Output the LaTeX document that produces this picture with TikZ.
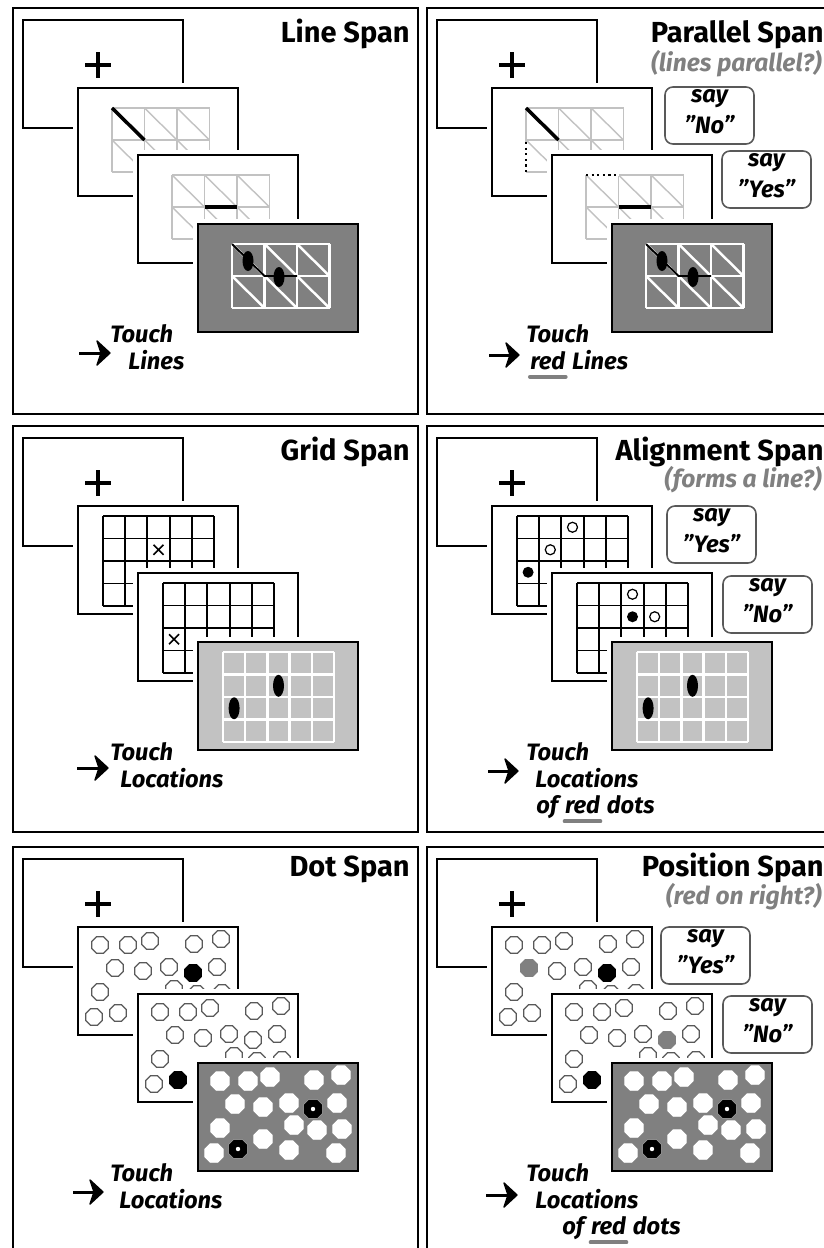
\documentclass[tikz,border=0pt]{standalone}
\usepackage{fontspec}
\setmainfont{Fira Sans}
\usetikzlibrary{positioning}

\definecolor{lightgrey}{gray}{0.76}
\definecolor{midgrey}{gray}{0.5}
\definecolor{darkgrey}{gray}{0.35}

\tikzset{
  panel/.style={line width=1.1pt},
  screen/.style={line width=1.4pt},
  fixcross/.style={line width=2.6pt},
  gline/.style={lightgrey,line width=1.1pt},
  gdiag/.style={lightgrey,line width=0.8pt},
  wline/.style={white,line width=1.4pt},
  bline/.style={line width=1.1pt},
  seg/.style={line width=2pt},
  trace/.style={line width=1.1pt},
  dotseg/.style={line width=1.2pt,dotted},
  octopen/.style={draw=darkgrey,fill=white,line width=0.75pt},
  octblack/.style={draw=black,fill=black,line width=0.75pt},
  octgrey/.style={draw=midgrey,fill=midgrey,line width=0.75pt},
  octwhite/.style={draw=white,fill=white,line width=0.5pt},
  title/.style={anchor=base east,inner sep=0pt,font=\fontsize{16.5}{18}\selectfont\bfseries},
  hint/.style={anchor=base east,inner sep=0pt,text=midgrey,font=\fontsize{14}{16}\selectfont\bfseries\itshape},
  instr/.style={anchor=base west,inner sep=0pt,font=\fontsize{13.5}{15}\selectfont\bfseries\itshape},
  saytxt/.style={anchor=base,inner sep=0pt,font=\fontsize{13.5}{15}\selectfont\bfseries\itshape},
  bubble/.style={draw=darkgrey,line width=0.9pt,rounded corners=4.5pt},
  uline/.style={midgrey,line width=2.3pt,line cap=round},
  shaft/.style={line width=1.7pt},
  tip/.style={line width=0.8pt,line join=round}
}

\newcommand{\panelbase}{%
  \draw[panel] (0,0) rectangle (405,406);
  \draw[screen] (10,12) rectangle (170,120);
  \draw[fixcross] (72,57) -- (98,57) (85,44) -- (85,70);}

\newcommand{\drawscreen}[4]{%
  \fill[white] (#1-5,#2-5) rectangle (#1+165,#2+113);
  \draw[screen,fill=#3] (#1,#2) rectangle (#1+160,#2+108);
  \begin{scope}[shift={(#1,#2)}]#4\end{scope}}

\newcommand{\linegrid}[2]{%
  \foreach \i in {0,...,3} \draw[#1] (34+32.5*\i,20) -- (34+32.5*\i,84);
  \foreach \j in {0,1,2} \draw[#1] (34,20+32*\j) -- (131.5,20+32*\j);
  \foreach \i in {0,1,2} \foreach \j in {0,1} \draw[#2] (34+32.5*\i,20+32*\j) -- ++(32.5,32);}

\newcommand{\boxgrid}[1]{%
  \foreach \i in {0,...,5} \draw[#1] (25+22.2*\i,10) -- (25+22.2*\i,100);
  \foreach \j in {0,...,4} \draw[#1] (25,10+22.5*\j) -- (136,10+22.5*\j);}

\newcommand{\gridx}[2]{\draw[line width=0.9pt] (#1-5,#2-5) -- (#1+5,#2+5) (#1-5,#2+5) -- (#1+5,#2-5);}

\newcommand{\octagon}[3]{\draw[#1] #2 +(22.5:#3) -- +(67.5:#3) -- +(112.5:#3) -- +(157.5:#3)
  -- +(202.5:#3) -- +(247.5:#3) -- +(292.5:#3) -- +(337.5:#3) -- cycle;}

\newcommand{\dotfield}[2]{%
  \foreach \p in {(22,18),(50,18),(72,14),(116,17),(143,12),
                  (37,41),(65,44),(91,40),(115,46),(139,40),
                  (22,65),(96,62),(119,67),(144,66),
                  (65,76),(91,87),(138,90),(16,90),(40,86)}
    {\octagon{#1}{\p}{#2}}}

\newcommand{\ring}[2]{\octagon{octblack}{(#1,#2)}{9.5}\fill[white] (#1,#2) circle [radius=2.2];}

\newcommand{\saybubble}[4]{%
  \draw[bubble] (#2,#3) rectangle ++(89,57);
  \node[saytxt] (#1a) at (#2+44.5,#3+15) {say};
  \node[saytxt] (#1b) at (#2+44.5,#3+46) {"#4"};}

\newcommand{\pointer}[2]{%
  \draw[shaft] (#1) -- ([xshift=-4pt]#2);
  \filldraw[tip] (#2) -- +(-13,-12) -- +(-9,0) -- +(-13,12) -- cycle;}

\begin{document}
\begin{tikzpicture}[x=0.02cm,y=-0.02cm]
\useasboundingbox (0,0) rectangle (824,1248);
\clip (0,0) rectangle (824,1248);

\begin{scope}[shift={(13,8)}]
\panelbase
\node[title] (t1) at (397,34) {Line Span};
\drawscreen{65}{80}{white}{\linegrid{gline}{gdiag}\draw[seg] (34,20) -- (66.5,52);}
\drawscreen{125}{147}{white}{\linegrid{gline}{gdiag}\draw[seg] (66.5,52) -- (99,52);}
\drawscreen{185}{216}{midgrey}{\linegrid{wline}{wline}
  \draw[trace] (34,20) -- (66.5,52) -- (99,52);
  \fill (50,37) ellipse [x radius=5.5,y radius=10];
  \fill (81,53) ellipse [x radius=5.5,y radius=10];}
\coordinate (a1) at (66,345);
\coordinate (a1e) at (97,345);
\pointer{a1}{a1e}
\node[instr] (h1) at (97,334) {Touch};
\node[instr] (w1) at (115,361) {Lines};
\end{scope}

\begin{scope}[shift={(427,8)}]
\panelbase
\node[title] (t2) at (397,34) {Parallel Span};
\node[hint] (q2) at (395,63) {(lines parallel?)};
\drawscreen{65}{80}{white}{\linegrid{gline}{gdiag}\draw[seg] (34,20) -- (66.5,52);
  \draw[white,line width=1.3pt] (34,54) -- (34,84);
  \draw[dotseg] (34,54) -- (34,84);}
\drawscreen{125}{147}{white}{\linegrid{gline}{gdiag}\draw[seg] (66.5,52) -- (99,52);
  \draw[white,line width=1.3pt] (34,20) -- (66.5,20);
  \draw[dotseg] (34,20) -- (66.5,20);}
\drawscreen{185}{216}{midgrey}{\linegrid{wline}{wline}
  \draw[trace] (34,20) -- (66.5,52) -- (99,52);
  \fill (50,37) ellipse [x radius=5.5,y radius=10];
  \fill (81,53) ellipse [x radius=5.5,y radius=10];}
\saybubble{s2n}{238}{79}{No}
\saybubble{s2y}{295}{143}{Yes}
\coordinate (a2) at (62,347);
\coordinate (a2e) at (92,347);
\pointer{a2}{a2e}
\node[instr] (h2) at (99,334) {Touch};
\node[instr] (r2) at (103,361) {red};
\node[instr,base right=3.5pt of r2] (w2) {Lines};
\draw[uline] ([yshift=-4.5pt]r2.base west) -- ([yshift=-4.5pt]r2.base east);
\end{scope}

\begin{scope}[shift={(13,426)}]
\panelbase
\node[title] (t3) at (397,34) {Grid Span};
\drawscreen{65}{80}{white}{\boxgrid{bline}\gridx{80.5}{43.75}}
\drawscreen{125}{147}{white}{\boxgrid{bline}\gridx{36.1}{66.25}}
\drawscreen{185}{216}{lightgrey}{\boxgrid{wline}
  \fill (36.1,66.25) ellipse [x radius=5.5,y radius=11];
  \fill (80.5,43.75) ellipse [x radius=5.5,y radius=11];}
\coordinate (a3) at (64,342);
\coordinate (a3e) at (95,342);
\pointer{a3}{a3e}
\node[instr] (h3) at (97,334) {Touch};
\node[instr] (w3) at (107,361) {Locations};
\end{scope}

\begin{scope}[shift={(427,426)}]
\panelbase
\node[title] (t4) at (397,34) {Alignment Span};
\node[hint] (q4) at (395,61) {(forms a line?)};
\drawscreen{65}{80}{white}{\boxgrid{bline}
  \draw[line width=0.7pt,fill=white] (80.5,21.25) circle [radius=5];
  \draw[line width=0.7pt,fill=white] (58.3,43.75) circle [radius=5];
  \fill (36.1,66.25) circle [radius=5.5];}
\drawscreen{125}{147}{white}{\boxgrid{bline}
  \draw[line width=0.7pt,fill=white] (80.5,21.25) circle [radius=5];
  \fill (80.5,43.75) circle [radius=5.5];
  \draw[line width=0.7pt,fill=white] (102.7,43.75) circle [radius=5];}
\drawscreen{185}{216}{lightgrey}{\boxgrid{wline}
  \fill (36.1,66.25) ellipse [x radius=5.5,y radius=11];
  \fill (80.5,43.75) ellipse [x radius=5.5,y radius=11];}
\saybubble{s4y}{240}{80}{Yes}
\saybubble{s4n}{296}{150}{No}
\coordinate (a4) at (61,345);
\coordinate (a4e) at (91,345);
\pointer{a4}{a4e}
\node[instr] (h4) at (99,334) {Touch};
\node[instr] (w4) at (108,361) {Locations};
\node[instr] (o4) at (109,387.5) {of};
\node[instr,base right=3.5pt of o4] (r4) {red};
\node[instr,base right=3.5pt of r4] (d4) {dots};
\draw[uline] ([yshift=-4.5pt]r4.base west) -- ([yshift=-4.5pt]r4.base east);
\end{scope}

\begin{scope}[shift={(13,847)}]
\panelbase
\node[title] (t5) at (397,29) {Dot Span};
\drawscreen{65}{80}{white}{\dotfield{octopen}{9}\octagon{octblack}{(115,46)}{9}}
\drawscreen{125}{147}{white}{\dotfield{octopen}{9}\octagon{octblack}{(40,86)}{9}}
\drawscreen{185}{216}{midgrey}{\dotfield{octwhite}{10}\ring{115}{46}\ring{40}{86}}
\coordinate (a5) at (60,345);
\coordinate (a5e) at (90,345);
\pointer{a5}{a5e}
\node[instr] (h5) at (97,334) {Touch};
\node[instr] (w5) at (106,361) {Locations};
\end{scope}

\begin{scope}[shift={(427,847)}]
\panelbase
\node[title] (t6) at (397,29) {Position Span};
\node[hint] (q6) at (395,57) {(red on right?)};
\drawscreen{65}{80}{white}{\dotfield{octopen}{9}
  \octagon{octgrey}{(37,41)}{9}\octagon{octblack}{(115,46)}{9}}
\drawscreen{125}{147}{white}{\dotfield{octopen}{9}
  \octagon{octgrey}{(115,46)}{9}\octagon{octblack}{(40,86)}{9}}
\drawscreen{185}{216}{midgrey}{\dotfield{octwhite}{10}\ring{115}{46}\ring{40}{86}}
\saybubble{s6y}{234}{80}{Yes}
\saybubble{s6n}{296}{149}{No}
\coordinate (a6) at (59,348);
\coordinate (a6e) at (90,348);
\pointer{a6}{a6e}
\node[instr] (h6) at (99,334) {Touch};
\node[instr] (w6) at (108,361) {Locations};
\node[instr] (o6) at (135,387.5) {of};
\node[instr,base right=3.5pt of o6] (r6) {red};
\node[instr,base right=3.5pt of r6] (d6) {dots};
\draw[uline] ([yshift=-4.5pt]r6.base west) -- ([yshift=-4.5pt]r6.base east);
\end{scope}
\end{tikzpicture}
\end{document}
